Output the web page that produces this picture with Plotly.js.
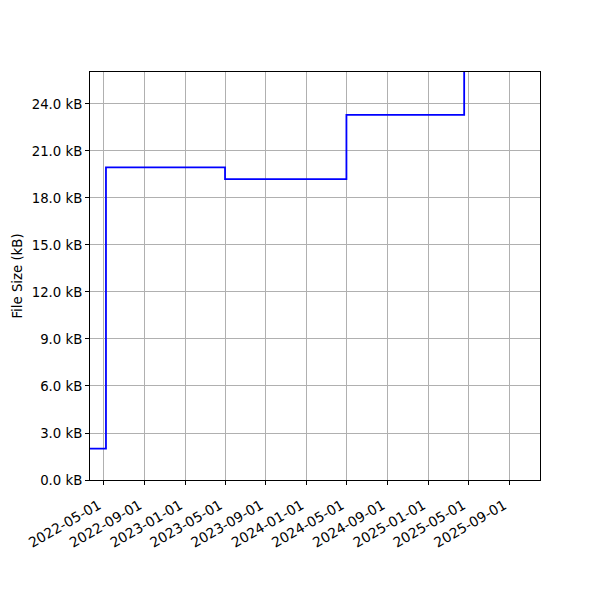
<!DOCTYPE html>
<html><head><meta charset="utf-8">
<script src="https://cdn.plot.ly/plotly-3.0.1.min.js"></script>
<style>html,body{margin:0;padding:0;background:#fff}#c{width:600px;height:600px}</style>
</head><body><div id="c"></div>
<script>
const dates = ["2022-03-21", "2022-05-08", "2023-05-01", "2024-04-30", "2025-04-19", "2025-12-31"];
const sizes = [2.0, 19.95, 19.2, 23.3, 30.0, 30.0];
const xTicks = ["2022-05-01","2022-09-01","2023-01-01","2023-05-01","2023-09-01","2024-01-01","2024-05-01","2024-09-01","2025-01-01","2025-05-01","2025-09-01"];
const yTicks = [0,3,6,9,12,15,18,21,24];
const yLabels = yTicks.map(v => v.toFixed(1) + " kB");
const xRange = ["2022-03-21", "2025-12-03"];
const yRange = [0, 26.04];

Plotly.newPlot("c", [{
  x: dates, y: sizes, type: "scatter", mode: "lines",
  line: {shape: "hv", color: "#0000ff", width: 1.8}
}], {
  width: 600, height: 600,
  margin: {l: 90, r: 60, t: 72, b: 120},
  paper_bgcolor: "#fff", plot_bgcolor: "#fff",
  font: {family: "DejaVu Sans", size: 13.3, color: "#000"},
  showlegend: false,
  xaxis: {
    type: "date", range: xRange, tickvals: xTicks, tickformat: "%Y-%m-%d",
    tickangle: -30, showgrid: true, gridcolor: "#b0b0b0", gridwidth: 1,
    showline: true, linecolor: "#000", linewidth: 1, mirror: true,
    ticks: "outside", ticklen: 4, tickcolor: "#000", zeroline: false,
    tickfont: {size: 13.9}, ticklabelstandoff: 7, ticklabelshift: -5
  },
  yaxis: {
    range: yRange, tickvals: yTicks, ticktext: yLabels,
    showgrid: true, gridcolor: "#b0b0b0", gridwidth: 1,
    showline: true, linecolor: "#000", linewidth: 1, mirror: true,
    ticks: "outside", ticklen: 4, tickcolor: "#000", zeroline: false,
    title: {text: "File Size (kB)", font: {size: 13.3}, standoff: 6}
  }
}, {displayModeBar: false});
</script></body></html>
